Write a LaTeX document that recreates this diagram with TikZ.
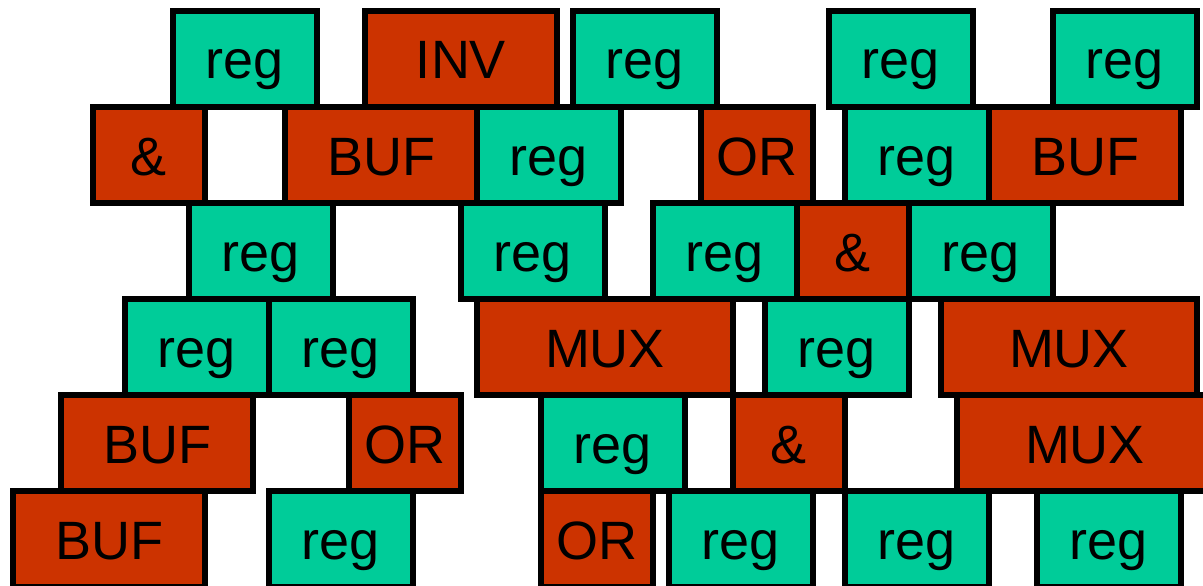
\documentclass[tikz,border=0pt]{standalone}
\usepackage{fontspec}
\setmainfont{Liberation Sans}
\definecolor{cellgreen}{HTML}{00CC99}
\definecolor{cellred}{HTML}{CC3300}
\tikzset{
  cell/.style={draw=black, line width=6pt, rectangle, inner sep=0pt, outer sep=0pt,
    minimum height=96pt, text height=40pt, text depth=0pt,
    font=\fontsize{54}{60}\selectfont},
  regbox/.style={cell, fill=cellgreen, minimum width=144pt},
  gatebox/.style={cell, fill=cellred},
  narrowgate/.style={gatebox, minimum width=112pt},
  widegate/.style={gatebox, minimum width=192pt},
  muxbox/.style={gatebox, minimum width=256pt}
}
\begin{document}
\begin{tikzpicture}[x=1pt, y=-1pt]
  \useasboundingbox (0,0) rectangle (1203,586);
  \clip (0,0) rectangle (1203,586);
  % row 1
  \node[regbox]     (a1) at (245,59)  {reg};
  \node[widegate]   (a2) at (461,59)  {INV};
  \node[regbox]     (a3) at (645,59)  {reg};
  \node[regbox]     (a4) at (901,59)  {reg};
  \node[regbox]     (a5) at (1125,59) {reg};
  % row 2
  \node[narrowgate] (b1) at (149,155) {\&};
  \node[widegate]   (b2) at (381,155) {BUF};
  \node[regbox]     (b3) at (549,155) {reg};
  \node[narrowgate] (b4) at (757,155) {OR};
  \node[regbox]     (b5) at (917,155) {reg};
  \node[widegate]   (b6) at (1085,155) {BUF};
  % row 3
  \node[regbox]     (c1) at (261,251) {reg};
  \node[regbox]     (c2) at (533,251) {reg};
  \node[regbox]     (c3) at (725,251) {reg};
  \node[narrowgate] (c4) at (853,251) {\&};
  \node[regbox]     (c5) at (981,251) {reg};
  % row 4
  \node[regbox]     (d1) at (197,347) {reg};
  \node[regbox]     (d2) at (341,347) {reg};
  \node[muxbox]     (d3) at (605,347) {MUX};
  \node[regbox]     (d4) at (837,347) {reg};
  \node[muxbox]     (d5) at (1069,347) {MUX};
  % row 5
  \node[widegate]   (e1) at (157,443) {BUF};
  \node[narrowgate] (e2) at (405,443) {OR};
  \node[regbox]     (e3) at (613,443) {reg};
  \node[narrowgate] (e4) at (789,443) {\&};
  \node[muxbox]     (e5) at (1085,443) {MUX};
  % row 6
  \node[widegate]   (f1) at (109,539) {BUF};
  \node[regbox]     (f2) at (341,539) {reg};
  \node[narrowgate] (f3) at (597,539) {OR};
  \node[regbox]     (f4) at (741,539) {reg};
  \node[regbox]     (f5) at (917,539) {reg};
  \node[regbox]     (f6) at (1109,539) {reg};
\end{tikzpicture}
\end{document}
